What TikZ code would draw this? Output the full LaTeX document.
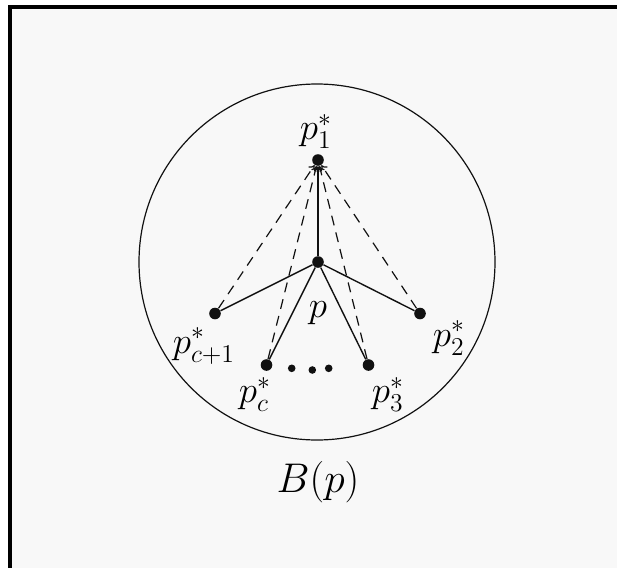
\documentclass[tikz,border=0pt]{standalone}
\usepackage{graphicx}
\usetikzlibrary{arrows.meta}
\definecolor{bgpaper}{HTML}{F8F8F8}
\definecolor{ink}{HTML}{111111}
\newcommand{\lbltxt}[1]{\scalebox{1.07}{\LARGE #1}}
\begin{document}
\begin{tikzpicture}[x=0.5pt,y=-0.5pt,
  dotnode/.style={circle,fill=ink,inner sep=0pt,minimum size=5.8pt},
  smalldot/.style={circle,fill=ink,inner sep=0pt,minimum size=3.8pt},
  lab/.style={anchor=base,inner sep=0pt},
  biglab/.style={anchor=base,inner sep=0pt,font=\huge},
  edge/.style={draw=ink,line width=0.7pt},
  tip/.style={-{To[length=2.6pt,width=4.2pt]}},
  dashedge/.style={draw=ink,line width=0.6pt,dash pattern=on 5pt off 3.6pt}
]
\useasboundingbox (0,0) rectangle (617,568);
\fill[white] (0,0) rectangle (617,568);
\draw[line width=2pt,fill=bgpaper] (10,7) rectangle (640,590);

\draw[ink,line width=0.6pt] (317,262) circle[radius=89pt];

\node[dotnode] (p1) at (318,160) {};
\node[dotnode] (p) at (318,262) {};
\node[dotnode] (pc1) at (215,313.5) {};
\node[dotnode] (p2) at (420,313.5) {};
\node[dotnode] (pc) at (266.5,365) {};
\node[dotnode] (p3) at (368.5,365) {};

\node[smalldot] (d1) at (291.7,368.3) {};
\node[smalldot] (d2) at (312.3,370) {};
\node[smalldot] (d3) at (328.7,368.3) {};

\draw[edge,tip] (p) -- (p1);
\draw[edge] (p) -- (pc1);
\draw[edge] (p) -- (p2);
\draw[edge] (p) -- (pc);
\draw[edge] (p) -- (p3);

\draw[dashedge,tip] (pc1) -- (p1);
\draw[dashedge,tip] (p2) -- (p1);
\draw[dashedge,tip] (pc) -- (p1);
\draw[dashedge,tip] (p3) -- (p1);

\node[lab] (l1) at (316,139.5) {\lbltxt{$p_1^*$}};
\node[lab] (lp) at (318,317) {\lbltxt{$p$}};
\node[lab] (lc1) at (204,353) {\lbltxt{$p_{c+1}^*$}};
\node[lab] (l2) at (449,346) {\lbltxt{$p_2^*$}};
\node[lab] (lc) at (255,402.5) {\lbltxt{$p_c^*$}};
\node[lab] (l3) at (388,402.5) {\lbltxt{$p_3^*$}};
\node[biglab] (lb) at (318,492) {$B(p)$};
\end{tikzpicture}
\end{document}
